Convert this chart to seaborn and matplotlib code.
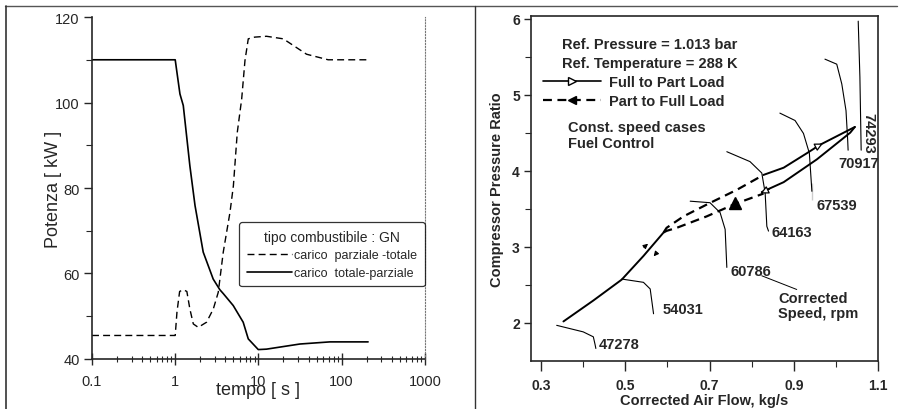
import matplotlib
matplotlib.use("Agg")
import matplotlib.pyplot as plt
import seaborn as sns
from matplotlib.lines import Line2D
from matplotlib.ticker import MultipleLocator, NullFormatter, FixedLocator

# ---- left panel: power [kW] vs time [s] ----
t_pt = [0.1, 1.0, 1.05, 1.13, 1.25, 1.38, 1.5, 1.65, 1.89, 2.38, 2.87, 3.29, 3.78,
        4.55, 5.0, 5.57, 6.29, 6.89, 7.55, 9.0, 12.5, 19.9, 37.9, 68.9, 208]
p_pt = [45.5, 45.5, 51, 55.8, 56.2, 55.8, 51.7, 48.2, 47.4, 48.6, 51.7, 55.6, 65,
        74.3, 80.5, 93, 100.8, 109.8, 114.9, 115.3, 115.5, 114.9, 111.3, 110, 110]

t_tp = [0.1, 1.0, 1.05, 1.14, 1.25, 1.5, 1.73, 2.17, 2.86, 3.44, 3.78, 4.98, 6.56,
        7.55, 9.96, 12.5, 31.5, 72.3, 208]
p_tp = [110, 110, 107, 102, 99.3, 85.2, 75.9, 65, 58.7, 56.2, 55.3, 52.5, 48.6,
        44.7, 42.2, 42.3, 43.5, 44, 44]

# ---- right panel: compressor map ----
common_x = [0.353, 0.424, 0.4915, 0.543, 0.591]
common_y = [2.02, 2.295, 2.57, 2.88, 3.19]
up_dash_x = [0.591, 0.598, 0.638, 0.693, 0.765, 0.828]
up_dash_y = [3.19, 3.25, 3.40, 3.555, 3.75, 3.945]
up_solid_x = [0.828, 0.876, 0.931, 0.962, 1.045]
up_solid_y = [3.945, 4.04, 4.23, 4.34, 4.575]
lo_dash_x = [0.591, 0.598, 0.622, 0.693, 0.761, 0.828]
lo_dash_y = [3.19, 3.21, 3.25, 3.40, 3.565, 3.70]
lo_solid_x = [0.824, 0.876, 0.955, 1.034, 1.045]
lo_solid_y = [3.72, 3.85, 4.15, 4.50, 4.575]

speeds = ["47278", "54031", "60786", "64163", "67539", "70917", "74293"]
speed_x = [
    [0.337, 0.400, 0.424, 0.428, 0.430],
    [0.4915, 0.543, 0.559, 0.567],
    [0.654, 0.701, 0.725, 0.737, 0.741],
    [0.741, 0.796, 0.824, 0.832, 0.836, 0.840],
    [0.867, 0.903, 0.923, 0.937, 0.943, 0.943],
    [0.974, 1.002, 1.014, 1.024, 1.028, 1.029],
    [1.053, 1.057, 1.060],
]
speed_y = [
    [1.969, 1.883, 1.818, 1.72, 1.665],
    [2.577, 2.534, 2.447, 2.121],
    [3.60, 3.58, 3.45, 3.23, 2.73],
    [4.25, 4.12, 3.97, 3.71, 3.27, 3.207],
    [4.757, 4.66, 4.49, 4.23, 3.84, 3.62],
    [5.466, 5.40, 5.14, 4.79, 4.40, 4.27],
    [5.965, 5.23, 4.27],
]
label_x = [0.438, 0.588, 0.749, 0.848, 0.955, 1.005, 1.078]
label_y = [1.72, 2.19, 2.686, 3.19, 3.555, 4.10, 4.51]

sns.set_style("ticks")
plt.rcParams["font.family"] = ["Liberation Sans", "DejaVu Sans"]

fig = plt.figure(figsize=(9.02, 4.10), dpi=100)
ax1 = fig.add_axes([0.102, 0.122, 0.369, 0.834])
ax2 = fig.add_axes([0.5887, 0.117, 0.3847, 0.841])

# ---------- left ----------
sns.lineplot(x=t_pt, y=p_pt, ax=ax1, color="k", lw=1.0, sort=False)
sns.lineplot(x=t_tp, y=p_tp, ax=ax1, color="k", lw=1.2, sort=False)
lns = ax1.get_lines()
lns[0].set_dashes((5, 3))
ax1.set_xscale("log")
ax1.set_xlim(0.1, 1000)
ax1.set_ylim(40, 120)
ax1.yaxis.set_major_locator(MultipleLocator(20))
ax1.yaxis.set_minor_locator(MultipleLocator(10))
ax1.xaxis.set_major_locator(FixedLocator([0.1, 1, 10, 100, 1000]))
ax1.xaxis.set_minor_locator(FixedLocator([m * 10.0 ** d for d in range(-1, 3) for m in range(2, 10)]))
ax1.xaxis.set_minor_formatter(NullFormatter())
ax1.set_xticklabels(["0.1", "1", "10", "100", "1000"])
ax1.tick_params(axis="x", which="major", labelsize=10.5, direction="inout",
                length=9, width=1, pad=6)
ax1.tick_params(axis="x", which="minor", direction="inout", length=5, width=0.8)
ax1.tick_params(axis="y", which="major", labelsize=10.5, direction="out",
                length=6, width=1, pad=3)
ax1.tick_params(axis="y", which="minor", direction="out", length=4, width=0.8)
ax1.set_ylabel("Potenza [ kW ]", fontsize=13, labelpad=-5)
ax1.set_xlabel("tempo [ s ]", fontsize=13, labelpad=-5)
for s in ["left", "bottom"]:
    ax1.spines[s].set_linewidth(1.2)
ax1.spines["top"].set_visible(False)
ax1.spines["right"].set_linestyle(":")
ax1.spines["right"].set_color("#777777")
ax1.spines["right"].set_linewidth(0.8)
leg1 = ax1.legend(handles=[lns[0], lns[1]],
                  labels=["carico  parziale -totale", "carico  totale-parziale"],
                  title="tipo combustibile : GN", title_fontsize=10, fontsize=9,
                  loc="upper right", bbox_to_anchor=(1.0, 0.40),
                  handlelength=3.6, handletextpad=0.2, borderpad=0.6,
                  labelspacing=0.45, frameon=True, fancybox=True, borderaxespad=0)
leg1.get_frame().set_edgecolor("k")
leg1.get_frame().set_linewidth(0.9)

# ---------- right ----------
sns.lineplot(x=common_x, y=common_y, ax=ax2, color="k", lw=1.4, sort=False)
sns.lineplot(x=up_solid_x, y=up_solid_y, ax=ax2, color="k", lw=1.4, sort=False)
sns.lineplot(x=lo_solid_x, y=lo_solid_y, ax=ax2, color="k", lw=1.4, sort=False)
for xs, ys in [(up_dash_x, up_dash_y), (lo_dash_x, lo_dash_y)]:
    sns.lineplot(x=xs, y=ys, ax=ax2, color="k", lw=1.6, sort=False)
    ax2.get_lines()[-1].set_dashes((4, 2.5))
for xs, ys in zip(speed_x, speed_y):
    sns.lineplot(x=xs, y=ys, ax=ax2, color="k", lw=0.8, sort=False)
for lab, lx, ly in zip(speeds, label_x, label_y):
    if lab == "74293":
        ax2.text(lx, ly, lab, rotation=270, fontsize=10.5, fontweight="bold",
                 ha="center", va="center")
    else:
        ax2.text(lx, ly, lab, fontsize=10.5, fontweight="bold", ha="left", va="center")

# direction arrows
aw = dict(arrowstyle="-|>", color="k", lw=0.9, mutation_scale=12, fc="white")
ax2.annotate("", xy=(0.975, 4.375), xytext=(0.945, 4.29), arrowprops=aw)
ax2.annotate("", xy=(0.815, 3.685), xytext=(0.848, 3.775), arrowprops=aw)
ax2.annotate("", xy=(0.559, 3.065), xytext=(0.539, 2.97),
             arrowprops=dict(arrowstyle="-|>", color="k", lw=0.8, mutation_scale=7))
ax2.annotate("", xy=(0.563, 2.847), xytext=(0.578, 2.946),
             arrowprops=dict(arrowstyle="-|>", color="k", lw=0.8, mutation_scale=7))
ax2.plot([0.761], [3.577], marker="^", color="k", ms=8)
# pointer to "Corrected Speed"
sns.lineplot(x=[0.824, 0.907], y=[2.62, 2.44], ax=ax2, color="k", lw=0.7, sort=False)
ax2.text(0.863, 2.33, "Corrected", fontsize=10.5, fontweight="bold", va="center")
ax2.text(0.863, 2.13, "Speed, rpm", fontsize=10.5, fontweight="bold", va="center")

ax2.text(0.349, 5.66, "Ref. Pressure = 1.013 bar", fontsize=10.5, fontweight="bold", va="center")
ax2.text(0.349, 5.41, "Ref. Temperature = 288 K", fontsize=10.5, fontweight="bold", va="center")
ax2.text(0.363, 4.57, "Const. speed cases", fontsize=10.5, fontweight="bold", va="center")
ax2.text(0.363, 4.36, "Fuel Control", fontsize=10.5, fontweight="bold", va="center")

h_full = Line2D([], [], color="k", lw=1.2, marker=">", mfc="white", mec="k", ms=6)
h_part = Line2D([], [], color="k", lw=1.6, ls=(0, (4, 2.5)), marker="<", mfc="k", ms=6)
leg2 = ax2.legend(handles=[h_full, h_part], labels=["Full to Part Load", "Part to Full Load"],
                  prop={"size": 10.5, "weight": "bold"}, loc="upper left",
                  bbox_to_anchor=(0.035, 0.83), borderaxespad=0, borderpad=0,
                  handlelength=4.0, handletextpad=0.5, labelspacing=0.35,
                  frameon=False, numpoints=1)

ax2.set_xlim(0.276, 1.1)
ax2.set_ylim(1.5, 6.03)
ax2.xaxis.set_major_locator(FixedLocator([0.3, 0.5, 0.7, 0.9, 1.1]))
ax2.xaxis.set_minor_locator(FixedLocator([0.4, 0.6, 0.8, 1.0]))
ax2.yaxis.set_major_locator(FixedLocator([2, 3, 4, 5, 6]))
ax2.yaxis.set_minor_locator(FixedLocator([2.5, 3.5, 4.5, 5.5]))
ax2.set_xticklabels(["0.3", "0.5", "0.7", "0.9", "1.1"])
ax2.set_yticklabels(["2", "3", "4", "5", "6"])
for lab in ax2.get_xticklabels() + ax2.get_yticklabels():
    lab.set_fontweight("bold")
ax2.tick_params(axis="x", which="major", labelsize=10, direction="out",
                length=7, width=1, pad=5)
ax2.tick_params(axis="y", which="major", labelsize=10, direction="out",
                length=5, width=1, pad=3)
ax2.tick_params(axis="both", which="minor", direction="out", length=4, width=0.8)
ax2.set_xlabel("Corrected Air Flow, kg/s", fontsize=10.5, fontweight="bold", labelpad=1)
ax2.set_ylabel("Compressor Pressure Ratio", fontsize=10.5, fontweight="bold", labelpad=6)
for s in ax2.spines.values():
    s.set_visible(True)
    s.set_linewidth(1.2)

# scan frame lines
fig.add_artist(Line2D([0.005, 0.995], [0.982, 0.982], color="#555555", lw=1.0,
                      transform=fig.transFigure))
fig.add_artist(Line2D([0.007, 0.007], [0.0, 0.982], color="#333333", lw=1.2,
                      transform=fig.transFigure))
fig.add_artist(Line2D([0.527, 0.527], [0.0, 0.982], color="#333333", lw=1.0,
                      transform=fig.transFigure))

fig.savefig("out.png", dpi=100, facecolor="white")
